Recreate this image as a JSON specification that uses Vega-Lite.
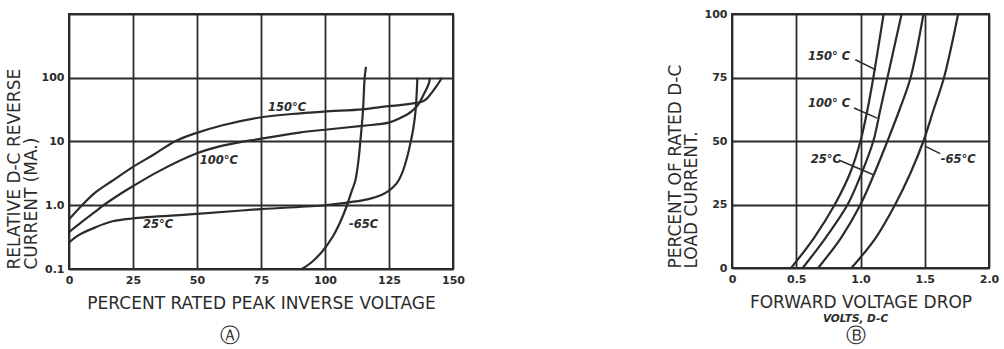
{
  "$schema": "https://vega.github.io/schema/vega-lite/v6.json",
  "background": "white",
  "padding": {"left": 4, "top": 7, "right": 0, "bottom": 0},
  "bounds": "flush",
  "spacing": 279,
  "config": {
    "view": {"stroke": "#2b2b2b", "strokeWidth": 2},
    "axis": {
      "grid": true, "gridColor": "#2b2b2b", "gridWidth": 1.8, "gridOpacity": 1,
      "domain": false, "ticks": false, "labelFlush": false, "labelOverlap": false,
      "labelFont": "DejaVu Sans", "labelFontWeight": "bold", "labelFontSize": 11,
      "labelColor": "#2b2b2b", "labelPadding": 5,
      "titleFont": "DejaVu Sans", "titleFontWeight": "normal", "titleFontSize": 17,
      "titleColor": "#2b2b2b"
    },
    "title": {"font": "DejaVu Sans", "color": "#2b2b2b", "subtitleFont": "DejaVu Sans", "subtitleColor": "#2b2b2b"}
  },
  "datasets": {
    "revA": [
      {"series": "150°C", "pct": 0, "current": 0.6},
      {"series": "150°C", "pct": 5.1, "current": 1.0},
      {"series": "150°C", "pct": 10, "current": 1.55},
      {"series": "150°C", "pct": 16.8, "current": 2.4},
      {"series": "150°C", "pct": 25, "current": 4.0},
      {"series": "150°C", "pct": 33, "current": 6.2},
      {"series": "150°C", "pct": 41.3, "current": 10},
      {"series": "150°C", "pct": 49, "current": 13.3},
      {"series": "150°C", "pct": 60, "current": 18},
      {"series": "150°C", "pct": 74.6, "current": 23.8},
      {"series": "150°C", "pct": 87, "current": 27},
      {"series": "150°C", "pct": 99.5, "current": 29.5},
      {"series": "150°C", "pct": 114.5, "current": 32},
      {"series": "150°C", "pct": 122.3, "current": 35},
      {"series": "150°C", "pct": 130, "current": 37.5},
      {"series": "150°C", "pct": 135, "current": 40},
      {"series": "150°C", "pct": 137.9, "current": 42},
      {"series": "150°C", "pct": 140, "current": 48},
      {"series": "150°C", "pct": 141.8, "current": 59},
      {"series": "150°C", "pct": 143.7, "current": 75},
      {"series": "150°C", "pct": 145.7, "current": 100},
      {"series": "100°C", "pct": 0, "current": 0.38},
      {"series": "100°C", "pct": 5, "current": 0.55},
      {"series": "100°C", "pct": 10, "current": 0.78},
      {"series": "100°C", "pct": 13.5, "current": 1.0},
      {"series": "100°C", "pct": 20, "current": 1.5},
      {"series": "100°C", "pct": 24.6, "current": 1.95},
      {"series": "100°C", "pct": 35, "current": 3.4},
      {"series": "100°C", "pct": 49, "current": 6.3},
      {"series": "100°C", "pct": 60, "current": 8.6},
      {"series": "100°C", "pct": 74.6, "current": 11},
      {"series": "100°C", "pct": 90, "current": 13.8},
      {"series": "100°C", "pct": 100, "current": 15.3},
      {"series": "100°C", "pct": 114.5, "current": 17.6},
      {"series": "100°C", "pct": 124.9, "current": 19.8},
      {"series": "100°C", "pct": 130, "current": 24},
      {"series": "100°C", "pct": 133, "current": 28},
      {"series": "100°C", "pct": 136, "current": 36},
      {"series": "100°C", "pct": 138.6, "current": 55},
      {"series": "100°C", "pct": 140.5, "current": 80},
      {"series": "100°C", "pct": 141, "current": 100},
      {"series": "25°C", "pct": 0, "current": 0.26},
      {"series": "25°C", "pct": 3.8, "current": 0.34},
      {"series": "25°C", "pct": 10.3, "current": 0.45},
      {"series": "25°C", "pct": 17, "current": 0.56},
      {"series": "25°C", "pct": 24.6, "current": 0.62},
      {"series": "25°C", "pct": 50, "current": 0.73},
      {"series": "25°C", "pct": 75, "current": 0.87},
      {"series": "25°C", "pct": 100, "current": 1.0},
      {"series": "25°C", "pct": 110, "current": 1.12},
      {"series": "25°C", "pct": 117, "current": 1.25},
      {"series": "25°C", "pct": 122, "current": 1.45},
      {"series": "25°C", "pct": 125, "current": 1.7},
      {"series": "25°C", "pct": 128, "current": 2.2},
      {"series": "25°C", "pct": 130, "current": 3.1},
      {"series": "25°C", "pct": 132, "current": 5.5},
      {"series": "25°C", "pct": 133.5, "current": 10},
      {"series": "25°C", "pct": 134.5, "current": 16},
      {"series": "25°C", "pct": 135.4, "current": 31},
      {"series": "25°C", "pct": 136.1, "current": 100},
      {"series": "-65C", "pct": 91, "current": 0.1},
      {"series": "-65C", "pct": 95, "current": 0.13},
      {"series": "-65C", "pct": 99, "current": 0.19},
      {"series": "-65C", "pct": 103, "current": 0.32},
      {"series": "-65C", "pct": 106, "current": 0.55},
      {"series": "-65C", "pct": 108.6, "current": 1.0},
      {"series": "-65C", "pct": 110.5, "current": 1.7},
      {"series": "-65C", "pct": 111.8, "current": 2.4},
      {"series": "-65C", "pct": 113, "current": 4.8},
      {"series": "-65C", "pct": 113.8, "current": 10},
      {"series": "-65C", "pct": 114.8, "current": 29},
      {"series": "-65C", "pct": 115.5, "current": 100},
      {"series": "-65C", "pct": 116, "current": 148}
    ],
    "labelsA": [
      {"label": "150°C", "pct": 85.2, "current": 34},
      {"label": "100°C", "pct": 58.5, "current": 5.0},
      {"label": "25°C", "pct": 34.8, "current": 0.49},
      {"label": "-65C", "pct": 115.1, "current": 0.49}
    ],
    "fwdB": [
      {"series": "150° C", "volts": 0.46, "load": 0},
      {"series": "150° C", "volts": 0.64, "load": 12},
      {"series": "150° C", "volts": 0.80, "load": 25},
      {"series": "150° C", "volts": 0.92, "load": 37.5},
      {"series": "150° C", "volts": 1.0, "load": 50},
      {"series": "150° C", "volts": 1.055, "load": 62.5},
      {"series": "150° C", "volts": 1.10, "load": 75},
      {"series": "150° C", "volts": 1.18, "load": 100},
      {"series": "100° C", "volts": 0.55, "load": 0},
      {"series": "100° C", "volts": 0.73, "load": 12},
      {"series": "100° C", "volts": 0.90, "load": 25},
      {"series": "100° C", "volts": 1.01, "load": 37.5},
      {"series": "100° C", "volts": 1.10, "load": 50},
      {"series": "100° C", "volts": 1.155, "load": 62.5},
      {"series": "100° C", "volts": 1.21, "load": 75},
      {"series": "100° C", "volts": 1.32, "load": 100},
      {"series": "25°C", "volts": 0.67, "load": 0},
      {"series": "25°C", "volts": 0.85, "load": 12},
      {"series": "25°C", "volts": 1.0, "load": 25},
      {"series": "25°C", "volts": 1.11, "load": 37.5},
      {"series": "25°C", "volts": 1.21, "load": 50},
      {"series": "25°C", "volts": 1.305, "load": 62.5},
      {"series": "25°C", "volts": 1.39, "load": 75},
      {"series": "25°C", "volts": 1.49, "load": 100},
      {"series": "-65°C", "volts": 0.93, "load": 0},
      {"series": "-65°C", "volts": 1.12, "load": 12},
      {"series": "-65°C", "volts": 1.27, "load": 25},
      {"series": "-65°C", "volts": 1.39, "load": 37.5},
      {"series": "-65°C", "volts": 1.49, "load": 50},
      {"series": "-65°C", "volts": 1.57, "load": 62.5},
      {"series": "-65°C", "volts": 1.65, "load": 75},
      {"series": "-65°C", "volts": 1.76, "load": 100}
    ],
    "labelsB": [
      {"label": "150° C", "volts": 0.755, "load": 83},
      {"label": "100° C", "volts": 0.755, "load": 64.5},
      {"label": "25°C", "volts": 0.73, "load": 42.5},
      {"label": "-65°C", "volts": 1.76, "load": 42.5}
    ],
    "leadersB": [
      {"label": "150° C", "v1": 0.96, "l1": 82, "v2": 1.12, "l2": 78},
      {"label": "100° C", "v1": 0.95, "l1": 63, "v2": 1.13, "l2": 59},
      {"label": "25°C", "v1": 0.83, "l1": 42.5, "v2": 1.105, "l2": 36.6},
      {"label": "-65°C", "v1": 1.62, "l1": 45, "v2": 1.51, "l2": 47.8}
    ]
  },
  "hconcat": [
    {
      "width": 384,
      "height": 255,
      "title": {"text": "Ⓐ", "orient": "bottom", "fontSize": 20, "fontWeight": "normal", "offset": 15, "dx": -31},
      "layer": [
        {
          "data": {"name": "revA"},
          "mark": {"type": "line", "color": "#2b2b2b", "strokeWidth": 2.2, "interpolate": "catmull-rom"},
          "encoding": {
            "x": {"field": "pct", "type": "quantitative",
                  "scale": {"domain": [0, 150], "nice": false},
                  "axis": {"values": [0, 25, 50, 75, 100, 125, 150], "title": "PERCENT RATED PEAK INVERSE VOLTAGE", "titlePadding": 10}},
            "y": {"field": "current", "type": "quantitative",
                  "scale": {"type": "log", "domain": [0.1, 1000], "nice": false},
                  "axis": {"values": [0.1, 1, 10, 100, 1000],
                           "labelExpr": "datum.value == 1 ? '1.0' : (datum.value == 1000 ? '' : datum.label)",
                           "title": ["RELATIVE D-C REVERSE", "CURRENT (MA.)"],
                           "titleAnchor": "start", "titlePadding": 1, "titleLineHeight": 17}},
            "detail": {"field": "series"}
          }
        },
        {
          "data": {"name": "labelsA"},
          "mark": {"type": "text", "font": "DejaVu Sans", "fontSize": 11.5, "fontWeight": "bold", "fontStyle": "italic", "color": "#2b2b2b"},
          "encoding": {
            "x": {"field": "pct", "type": "quantitative"},
            "y": {"field": "current", "type": "quantitative"},
            "text": {"field": "label"}
          }
        }
      ]
    },
    {
      "width": 257,
      "height": 254,
      "title": {"text": "VOLTS, D-C", "subtitle": "Ⓑ", "orient": "bottom", "fontSize": 10.5, "fontWeight": "bold", "fontStyle": "italic", "subtitleFontSize": 20, "subtitlePadding": 1, "offset": 4, "dx": -5},
      "layer": [
        {
          "data": {"name": "fwdB"},
          "mark": {"type": "line", "color": "#2b2b2b", "strokeWidth": 2.2, "interpolate": "catmull-rom"},
          "encoding": {
            "x": {"field": "volts", "type": "quantitative",
                  "scale": {"domain": [0, 2], "nice": false},
                  "axis": {"values": [0, 0.5, 1, 1.5, 2],
                           "labelExpr": "datum.value == 0 ? '0' : format(datum.value, '.1f')",
                           "title": "FORWARD VOLTAGE DROP", "titlePadding": 10}},
            "y": {"field": "load", "type": "quantitative",
                  "scale": {"domain": [0, 100], "nice": false},
                  "axis": {"values": [0, 25, 50, 75, 100],
                           "title": ["PERCENT OF RATED D-C", "LOAD CURRENT."],
                           "titleAnchor": "start", "titlePadding": 4, "titleLineHeight": 16}},
            "detail": {"field": "series"}
          }
        },
        {
          "data": {"name": "leadersB"},
          "mark": {"type": "rule", "color": "#2b2b2b", "strokeWidth": 1.5},
          "encoding": {
            "x": {"field": "v1", "type": "quantitative"},
            "y": {"field": "l1", "type": "quantitative"},
            "x2": {"field": "v2"},
            "y2": {"field": "l2"}
          }
        },
        {
          "data": {"name": "labelsB"},
          "mark": {"type": "text", "font": "DejaVu Sans", "fontSize": 11.5, "fontWeight": "bold", "fontStyle": "italic", "color": "#2b2b2b"},
          "encoding": {
            "x": {"field": "volts", "type": "quantitative"},
            "y": {"field": "load", "type": "quantitative"},
            "text": {"field": "label"}
          }
        }
      ]
    }
  ]
}
